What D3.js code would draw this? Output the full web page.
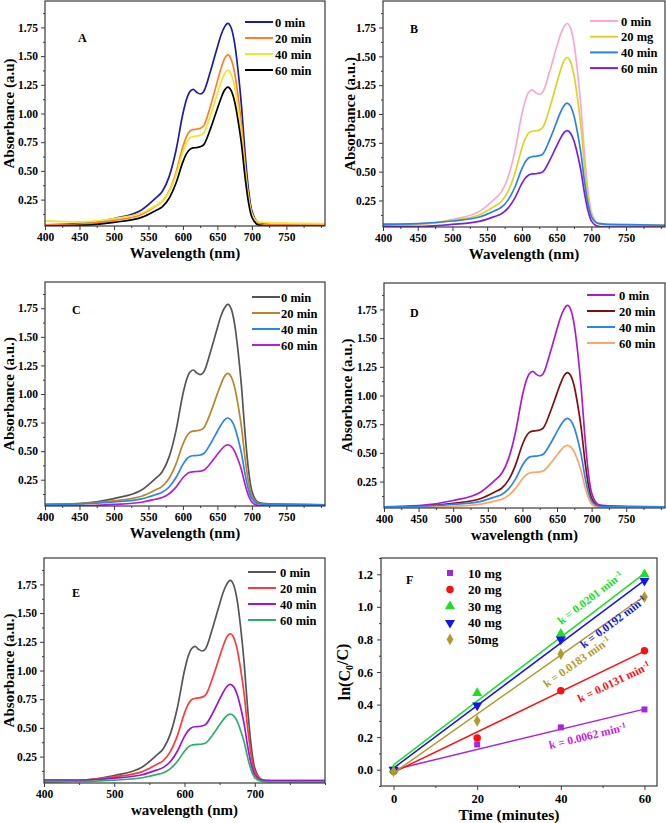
<!DOCTYPE html>
<html><head><meta charset="utf-8">
<script src="https://cdn.jsdelivr.net/npm/d3@7/dist/d3.min.js"></script>
<style>
body{margin:0;background:#fff}
svg{display:block}
text{font-family:"Liberation Serif","Times New Roman",serif;font-weight:bold;fill:#000}
</style>
</head><body>
<svg id="c" width="666" height="823"></svg>
<script>
// ---------- DATA ----------
const wavelength = [400,450,500,540,560,570,580,590,600,605,610,615,620,625,630,640,650,655,660,665,670,675,680,685,690,695,700,710,720,750,810];
// 0 min (initial methylene blue spectrum, same in every panel)
const mb0 = [0.03,0.04,0.085,0.16,0.26,0.32,0.45,0.68,1.00,1.12,1.19,1.21,1.185,1.17,1.19,1.37,1.58,1.68,1.75,1.785,1.745,1.61,1.37,1.06,0.66,0.34,0.15,0.05,0.04,0.035,0.03];
// Panel A
const A_20 = [0.03,0.037,0.069,0.121,0.192,0.234,0.325,0.487,0.712,0.797,0.846,0.86,0.864,0.872,0.893,1.066,1.282,1.387,1.473,1.51,1.471,1.353,1.149,0.896,0.555,0.285,0.123,0.039,0.03,0.03,0.03];
const A_40 = [0.065,0.056,0.085,0.133,0.196,0.235,0.317,0.463,0.667,0.743,0.787,0.80,0.804,0.811,0.83,0.983,1.173,1.266,1.342,1.375,1.34,1.234,1.05,0.823,0.517,0.274,0.129,0.053,0.048,0.045,0.04];
const A_60 = [0.02,0.025,0.052,0.095,0.153,0.187,0.262,0.395,0.579,0.648,0.688,0.70,0.703,0.71,0.727,0.868,1.044,1.129,1.20,1.23,1.199,1.102,0.935,0.728,0.45,0.228,0.096,0.027,0.02,0.02,0.02];
// Panel B
const B_20 = [0.04,0.046,0.078,0.129,0.198,0.239,0.328,0.486,0.706,0.788,0.836,0.85,0.854,0.862,0.882,1.052,1.265,1.368,1.454,1.49,1.452,1.336,1.136,0.888,0.555,0.289,0.131,0.049,0.04,0.04,0.035];
const B_40 = [0.045,0.05,0.072,0.109,0.159,0.189,0.253,0.367,0.526,0.586,0.62,0.63,0.633,0.639,0.653,0.777,0.931,1.007,1.068,1.095,1.068,0.984,0.839,0.659,0.418,0.226,0.111,0.051,0.045,0.04,0.035];
const B_60 = [0.025,0.024,0.042,0.071,0.11,0.133,0.184,0.273,0.398,0.445,0.472,0.48,0.482,0.487,0.498,0.598,0.723,0.784,0.834,0.855,0.833,0.766,0.651,0.508,0.316,0.164,0.073,0.025,0.02,0.02,0.02];
// Panel C
const C_20 = [0.035,0.04,0.065,0.105,0.16,0.192,0.263,0.388,0.561,0.626,0.664,0.675,0.678,0.685,0.701,0.835,1.003,1.084,1.151,1.18,1.15,1.059,0.901,0.705,0.441,0.232,0.107,0.042,0.035,0.035,0.03];
const C_40 = [0.035,0.038,0.055,0.082,0.118,0.14,0.186,0.269,0.384,0.428,0.453,0.46,0.462,0.466,0.477,0.565,0.674,0.727,0.771,0.79,0.77,0.71,0.606,0.477,0.303,0.165,0.083,0.04,0.035,0.035,0.03];
const C_60 = [0.02,0.022,0.034,0.053,0.079,0.094,0.127,0.185,0.267,0.297,0.315,0.32,0.322,0.325,0.332,0.394,0.472,0.51,0.542,0.555,0.541,0.498,0.424,0.333,0.21,0.112,0.054,0.023,0.02,0.02,0.02];
// Panel D
const D_20 = [0.03,0.035,0.061,0.103,0.159,0.192,0.265,0.394,0.573,0.64,0.679,0.69,0.693,0.70,0.716,0.852,1.021,1.103,1.171,1.20,1.17,1.076,0.915,0.714,0.445,0.231,0.104,0.037,0.03,0.03,0.03];
const D_40 = [0.03,0.034,0.051,0.078,0.116,0.138,0.187,0.272,0.392,0.437,0.463,0.47,0.472,0.477,0.488,0.575,0.685,0.738,0.781,0.80,0.78,0.718,0.612,0.48,0.303,0.162,0.079,0.035,0.03,0.03,0.03];
const D_60 = [0.02,0.022,0.035,0.054,0.08,0.096,0.13,0.191,0.275,0.306,0.325,0.33,0.332,0.335,0.342,0.404,0.482,0.52,0.552,0.565,0.551,0.507,0.432,0.339,0.213,0.114,0.054,0.023,0.02,0.02,0.02];
// Panel E
const E_20 = [0.045,0.046,0.074,0.119,0.18,0.216,0.295,0.435,0.629,0.702,0.745,0.757,0.761,0.768,0.786,0.936,1.122,1.213,1.288,1.32,1.287,1.184,1.008,0.789,0.494,0.26,0.121,0.048,0.04,0.04,0.04];
const E_40 = [0.045,0.044,0.062,0.092,0.132,0.156,0.207,0.299,0.426,0.474,0.502,0.51,0.512,0.517,0.529,0.627,0.75,0.81,0.859,0.88,0.858,0.791,0.675,0.531,0.338,0.184,0.093,0.045,0.04,0.04,0.04];
const E_60 = [0.035,0.033,0.045,0.066,0.093,0.11,0.146,0.209,0.297,0.33,0.349,0.355,0.357,0.36,0.368,0.439,0.527,0.57,0.605,0.62,0.605,0.557,0.476,0.375,0.239,0.131,0.067,0.034,0.03,0.03,0.03];

const legendMin = ["0 min","20 min","40 min","60 min"];
const legendB = ["0 min","20 mg","40 min","60 min"];
const specYTicks = [0.25,0.50,0.75,1.00,1.25,1.50,1.75];
const specYMinor = [0.125,0.375,0.625,0.875,1.125,1.375,1.625,1.875];
const wlTicks50 = [400,450,500,550,600,650,700,750];
const wlMinor25 = [425,475,525,575,625,675,725,775,800];
const wlTicks100 = [400,500,600,700];
const wlMinor100 = [450,550,650,750,800];

// Panel F (kinetics)
const timeMin = [0,20,40,60];
const dose = ["10 mg","20 mg","30 mg","40 mg","50mg"];
const lnF10 = [0.0,0.155,0.26,0.37];
const lnF20 = [-0.01,0.195,0.485,0.73];
const lnF30 = [0.0,0.47,0.835,1.20];
const lnF40 = [0.0,0.395,0.80,1.16];
const lnF50 = [-0.01,0.30,0.71,1.06];
const fitSlope = [0.0062,0.0124,0.0196,0.0192,0.0181];
const fitIntercept = [0.0,-0.016,0.03,0.01,-0.02];
const kLabels = ["k = 0.0062 min","k = 0.0131 min","k = 0.0201 min","k = 0.0192 min","k = 0.0183 min"];
const fYTicks = [0.0,0.2,0.4,0.6,0.8,1.0,1.2];
const fYMinor = [-0.1,0.1,0.3,0.5,0.7,0.9,1.1,1.3];
const fXTicks = [0,20,40,60];
const fXMinor = [10,30,50];

// ---------- DRAW ----------
const svg = d3.select('#c');
const FRAME = '#3a3a3a';

function styleAxis(g, fs){
  g.attr('font-family',null).attr('font-size',null);
  g.select('.domain').remove();
  g.selectAll('.tick line').attr('stroke', FRAME).attr('stroke-width',1);
  g.selectAll('.tick text').style('font-size', fs+'px').attr('fill','#000');
}

function spectrumPanel(p){
  const x = d3.scaleLinear().domain(p.xDomain).range([p.x, p.x+p.w]);
  const y = d3.scaleLinear().domain([0.02,1.98]).range([p.y+p.h, p.y]);
  const cid = 'clip'+p.name;
  svg.append('clipPath').attr('id',cid).append('rect')
    .attr('x',p.x).attr('y',p.y).attr('width',p.w).attr('height',p.h);
  const line = d3.line().x((d,i)=>x(wavelength[i])).y(d=>y(d)).curve(d3.curveMonotoneX);
  const cg = svg.append('g').attr('clip-path','url(#'+cid+')');
  p.series.forEach((s,i)=>{
    cg.append('path').datum(s).attr('d',line).attr('fill','none')
      .attr('stroke',p.colors[i]).attr('stroke-width',1.7);
  });
  // axes
  const xa = svg.append('g').attr('transform',`translate(0,${p.y+p.h})`)
    .call(d3.axisBottom(x).tickValues(p.xTicks).tickSize(4).tickPadding(3).tickFormat(d3.format('d')));
  styleAxis(xa, 11.5);
  const xm = svg.append('g').attr('transform',`translate(0,${p.y+p.h})`)
    .call(d3.axisBottom(x).tickValues(p.xMinor).tickSize(2).tickFormat(''));
  styleAxis(xm, 11);
  const ya = svg.append('g').attr('transform',`translate(${p.x},0)`)
    .call(d3.axisLeft(y).tickValues(specYTicks).tickSize(4).tickPadding(3).tickFormat(d3.format('.2f')));
  styleAxis(ya, 11.5);
  const ym = svg.append('g').attr('transform',`translate(${p.x},0)`)
    .call(d3.axisLeft(y).tickValues(specYMinor).tickSize(2).tickFormat(''));
  styleAxis(ym, 11);
  // frame
  svg.append('rect').attr('x',p.x).attr('y',p.y).attr('width',p.w).attr('height',p.h)
    .attr('fill','none').attr('stroke',FRAME).attr('stroke-width',1.2);
  // titles
  svg.append('text').attr('x',p.x+p.w/2).attr('y',p.y+p.h+32).attr('text-anchor','middle')
    .style('font-size','15px').text(p.xTitle);
  svg.append('text').attr('transform',`translate(${p.yTitleX},${p.y+p.h/2}) rotate(-90)`)
    .attr('text-anchor','middle').style('font-size','15px').text(p.yTitle);
  svg.append('text').attr('x',p.letter[0]).attr('y',p.letter[1]).style('font-size','12px').text(p.name);
  // legend
  p.legend.forEach((t,i)=>{
    const yy = p.leg[2] + i*p.leg[3];
    svg.append('line').attr('x1',p.leg[0]).attr('x2',p.leg[0]+28).attr('y1',yy).attr('y2',yy)
      .attr('stroke',p.colors[i]).attr('stroke-width',2);
    svg.append('text').attr('x',p.leg[1]).attr('y',yy+4.5).style('font-size','12.5px').text(t);
  });
}

const panels = [
  {name:'A', x:45, y:1, w:280, h:225, xDomain:[400,806], xTicks:wlTicks50, xMinor:wlMinor25,
   series:[mb0,A_20,A_40,A_60], colors:['#1c1ca0','#ff7f27','#f2e52a','#000000'], legend:legendMin,
   xTitle:'Wavelength (nm)', yTitle:'Absorbance (a.u)', yTitleX:14, letter:[78,42], leg:[245,275,22,16]},
  {name:'B', x:383, y:1, w:282, h:226, xDomain:[400,806], xTicks:wlTicks50, xMinor:wlMinor25,
   series:[mb0,B_20,B_40,B_60], colors:['#f7a9d3','#dcd325','#2a82e6','#7a1fe0'], legend:legendB,
   xTitle:'Wavelength (nm)', yTitle:'Absorbance (a.u.)', yTitleX:355, letter:[410,33], leg:[590,621,21,15.7]},
  {name:'C', x:45, y:282, w:280, h:224, xDomain:[400,806], xTicks:wlTicks50, xMinor:wlMinor25,
   series:[mb0,C_20,C_40,C_60], colors:['#555555','#b8862b','#2a86ee','#b51fd6'], legend:legendMin,
   xTitle:'Wavelength (nm)', yTitle:'Absorbance (a.u.)', yTitleX:14, letter:[72,314], leg:[252,281,297,16]},
  {name:'D', x:384, y:283, w:281, h:225, xDomain:[400,806], xTicks:wlTicks50, xMinor:wlMinor25,
   series:[mb0,D_20,D_40,D_60], colors:['#a91ccf','#7f0f0f','#2a86ee','#ffa463'], legend:legendMin,
   xTitle:'wavelength (nm)', yTitle:'Absorbance (a.u.)', yTitleX:352, letter:[410,317], leg:[587,619,295,16]},
  {name:'E', x:44, y:558, w:281, h:225, xDomain:[400,800], xTicks:wlTicks100, xMinor:wlMinor100,
   series:[mb0,E_20,E_40,E_60], colors:['#555555','#ff3a3a','#9a14da','#2bb06a'], legend:legendMin,
   xTitle:'wavelength (nm)', yTitle:'Absorbance (a.u.)', yTitleX:14, letter:[72,597], leg:[248,280,572,16]},
];
panels.forEach(spectrumPanel);

// ---------- Panel F ----------
(function(){
  const p = {x:381, y:558, w:276, h:228};
  const x = d3.scaleLinear().domain([-3,63]).range([p.x,p.x+p.w]);
  const y = d3.scaleLinear().domain([-0.1,1.3]).range([p.y+p.h,p.y]);
  const colors = ['#a626e0','#ff1010','#1ee01e','#1414ee','#b09a2c'];
  const symbols = [d3.symbolSquare,d3.symbolCircle,d3.symbolTriangle,d3.symbolTriangle,d3.symbolDiamond];
  const rot = [0,0,0,180,0];
  const sizes = [36,44,44,44,40];
  const data = [lnF10,lnF20,lnF30,lnF40,lnF50];
  // fit lines
  data.forEach((s,i)=>{
    svg.append('line')
      .attr('x1',x(0)).attr('y1',y(fitIntercept[i]))
      .attr('x2',x(60)).attr('y2',y(fitIntercept[i]+fitSlope[i]*60))
      .attr('stroke',colors[i]).attr('stroke-width',1.5);
  });
  // points
  data.forEach((s,i)=>{
    s.forEach((v,j)=>{
      svg.append('path').attr('d',d3.symbol().type(symbols[i]).size(sizes[i])())
        .attr('transform',`translate(${x(timeMin[j])},${y(v)}) rotate(${rot[i]})`)
        .attr('fill',colors[i]);
    });
  });
  // k labels along lines (t position along the fit, vertical offset in px: + above, - below)
  const kT = [46.4,52.7,47.0,52.5,43.8];
  const kOff = [-13,-16,17,-18,-18];
  const kCol = ['#c21fe0','#ff1010','#1ee01e','#1414ee','#b09a2c'];
  data.forEach((s,i)=>{
    const t = kT[i];
    const px = x(t), py = y(fitIntercept[i]+fitSlope[i]*t);
    const dx = x(10)-x(0), dy = y(fitSlope[i]*10)-y(0);
    const ang = Math.atan2(dy,dx)*180/Math.PI;
    const tx = svg.append('text')
      .attr('transform',`translate(${px},${py - kOff[i]}) rotate(${ang})`)
      .attr('text-anchor','middle').attr('dy','0.35em')
      .style('font-size','11.5px').style('fill',kCol[i]);
    tx.append('tspan').text(kLabels[i]);
    tx.append('tspan').attr('dy','-0.45em').style('font-size','8px').text('-1');
  });
  // axes
  const xa = svg.append('g').attr('transform',`translate(0,${p.y+p.h})`)
    .call(d3.axisBottom(x).tickValues(fXTicks).tickSize(4).tickPadding(4).tickFormat(d3.format('d')));
  styleAxis(xa,12.5);
  const xm = svg.append('g').attr('transform',`translate(0,${p.y+p.h})`)
    .call(d3.axisBottom(x).tickValues(fXMinor).tickSize(2).tickFormat(''));
  styleAxis(xm,12);
  const ya = svg.append('g').attr('transform',`translate(${p.x},0)`)
    .call(d3.axisLeft(y).tickValues(fYTicks).tickSize(4).tickPadding(4).tickFormat(d3.format('.1f')));
  styleAxis(ya,12.5);
  const ym = svg.append('g').attr('transform',`translate(${p.x},0)`)
    .call(d3.axisLeft(y).tickValues(fYMinor).tickSize(2).tickFormat(''));
  styleAxis(ym,12);
  svg.append('rect').attr('x',p.x).attr('y',p.y).attr('width',p.w).attr('height',p.h)
    .attr('fill','none').attr('stroke',FRAME).attr('stroke-width',1.2);
  svg.append('text').attr('x',p.x+p.w/2-10).attr('y',p.y+p.h+34).attr('text-anchor','middle')
    .style('font-size','15.5px').text('Time (minutes)');
  const yl = svg.append('text').attr('transform',`translate(${p.x-31},${p.y+p.h/2}) rotate(-90)`)
    .attr('text-anchor','middle').style('font-size','16px');
  yl.append('tspan').text('ln(C');
  yl.append('tspan').attr('dy','0.3em').style('font-size','10px').text('0');
  yl.append('tspan').attr('dy','-0.3em').text('/C)');
  svg.append('text').attr('x',406).attr('y',584).style('font-size','12px').text('F');
  // legend
  dose.forEach((d,i)=>{
    const yy = 573 + i*16.6;
    svg.append('path').attr('d',d3.symbol().type(symbols[i]).size(sizes[i])())
      .attr('transform',`translate(450,${yy}) rotate(${rot[i]})`).attr('fill',colors[i]);
    svg.append('text').attr('x',468).attr('y',yy+4.5).style('font-size','13px').text(d);
  });
})();
</script>
</body></html>
